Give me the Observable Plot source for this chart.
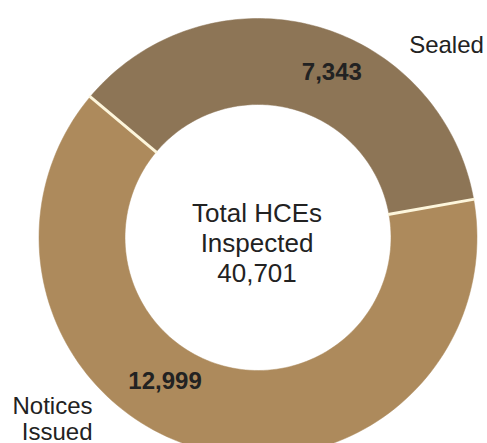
<!DOCTYPE html>
<html>
<head>
<meta charset="utf-8">
<script src="https://cdn.jsdelivr.net/npm/d3@7"></script>
<script src="https://cdn.jsdelivr.net/npm/@observablehq/plot@0.6"></script>
<style>
  html, body { margin: 0; padding: 0; background: #fff; }
  #chart { width: 487px; height: 443px; overflow: hidden; }
</style>
</head>
<body>
<div id="chart"></div>
<script>
// ---- data ----
const categories = ["Sealed", "Notices Issued"];
const values = [7343, 12999];
const valueLabels = ["7,343", "12,999"];
const centerLines = ["Total HCEs", "Inspected", "40,701"];
const colors = ["#8d7556", "#ad8a5c"];

// ---- layout ----
const W = 487, H = 443;
const cx = 257.5, cy = 237, rOuter = 219, rInner = 133;
const startDeg = -50;

const pie = d3.pie().sort(null).startAngle(startDeg * Math.PI / 180)
  .endAngle((startDeg + 360) * Math.PI / 180);
const arcs = pie(values);

const pt = (a, r) => ({x: cx + r * Math.sin(a), y: cy - r * Math.cos(a)});

// polygon points for each ring slice
const slicePts = [];
arcs.forEach((d, i) => {
  const n = 120;
  const outer = d3.range(n + 1).map(k => d.startAngle + (d.endAngle - d.startAngle) * k / n);
  outer.forEach(a => slicePts.push({...pt(a, rOuter), cat: categories[i]}));
  outer.slice().reverse().forEach(a => slicePts.push({...pt(a, rInner), cat: categories[i]}));
});

// separators between slices
const seps = arcs.map(d => {
  const p1 = pt(d.startAngle, rInner - 1), p2 = pt(d.startAngle, rOuter + 1);
  return {x1: p1.x, y1: p1.y, x2: p2.x, y2: p2.y};
});

// value labels positioned along slices
const labelPos = [{f: 0.57, r: 181}, {f: 0.578, r: 171}];
const valueText = arcs.map((d, i) => {
  const a = d.startAngle + (d.endAngle - d.startAngle) * labelPos[i].f;
  const p = pt(a, labelPos[i].r);
  return {...p, text: valueLabels[i]};
});

const sealedText = [{x: 446, y: 45, text: categories[0]}];
const noticesText = [{x: 92, y: 406, text: "Notices"}, {x: 92, y: 432, text: "Issued"}];

const centerText = centerLines.map((t, i) => ({x: cx - 1, y: 213 + i * 30, text: t}));

const chart = Plot.plot({
  width: W, height: H,
  margin: 0,
  x: {domain: [0, W], range: [0, W], axis: null},
  y: {domain: [0, H], range: [0, H], axis: null},
  color: {domain: categories, range: colors},
  style: {fontFamily: "Liberation Sans, Arial, sans-serif", background: "#fff"},
  marks: [
    Plot.line(slicePts, {x: "x", y: "y", z: "cat", fill: "cat", stroke: "cat", strokeWidth: 0.5, curve: "linear-closed"}),
    Plot.link(seps, {x1: "x1", y1: "y1", x2: "x2", y2: "y2", stroke: "#fdf6dc", strokeWidth: 3}),
    Plot.text(valueText, {x: "x", y: "y", text: "text", fontSize: 24, fontWeight: "bold", fill: "#222"}),
    Plot.text(sealedText, {x: "x", y: "y", text: "text", fontSize: 24, fill: "#222"}),
    Plot.text(noticesText, {x: "x", y: "y", text: "text", textAnchor: "end", fontSize: 24, fill: "#222"}),
    Plot.text(centerText, {x: "x", y: "y", text: "text", fontSize: 26, fill: "#222"})
  ]
});
document.getElementById("chart").appendChild(chart);
</script>
</body>
</html>
